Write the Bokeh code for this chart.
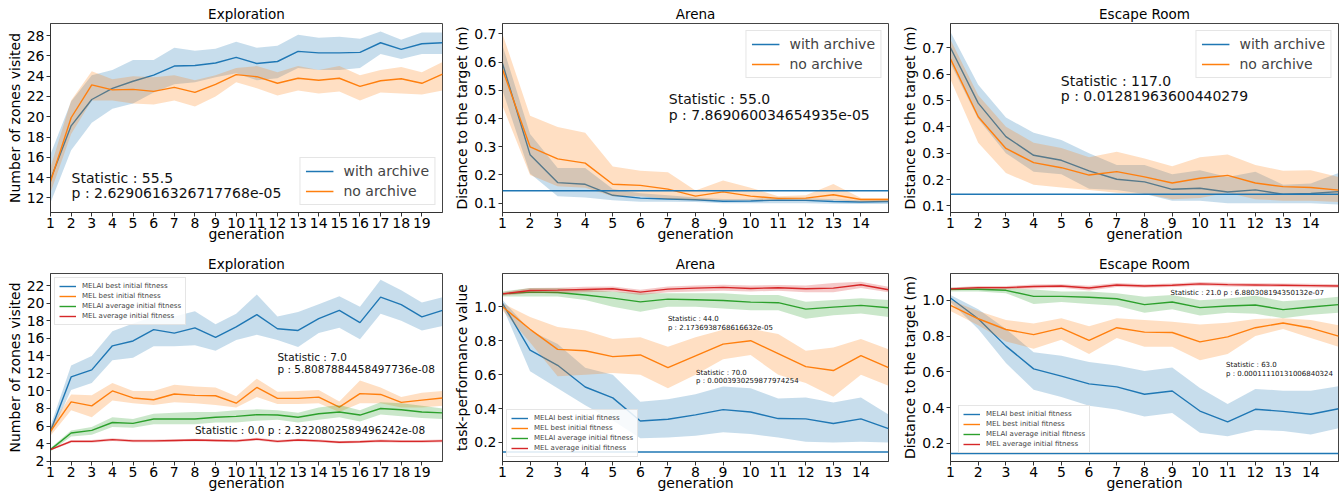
from bokeh.plotting import figure
from bokeh.models import Range1d, FixedTicker, PrintfTickFormatter, Label, Span, Legend
from bokeh.layouts import column, row
from bokeh.embed import file_html
from bokeh.resources import INLINE

# ---------------- data ----------------
gen20 = list(range(1, 21))
gen15 = list(range(1, 16))
target_distance = 0.144

# Top-left: Exploration (with / without archive)
expl_with_mean = [13.8, 19.1, 21.7, 22.8, 23.5, 24.1, 25.0, 25.05, 25.3, 25.85, 25.25, 25.45, 26.45, 26.3, 26.3, 26.35, 27.3, 26.65, 27.2, 27.3]
expl_with_low = [11.5, 16.7, 19.4, 20.8, 21.3, 22.4, 23.2, 23.4, 23.9, 24.3, 23.6, 23.8, 24.8, 24.6, 24.6, 24.8, 26.2, 25.7, 26.2, 26.2]
expl_with_high = [16.3, 21.5, 24.1, 24.6, 25.6, 25.6, 26.8, 26.5, 26.7, 27.4, 26.8, 27.0, 28.1, 27.8, 27.9, 27.7, 28.4, 27.6, 28.3, 28.3]
expl_no_mean = [13.6, 19.9, 23.15, 22.65, 22.7, 22.5, 22.9, 22.4, 23.2, 24.15, 23.95, 23.3, 23.8, 23.6, 23.8, 23.0, 23.55, 23.75, 23.3, 24.2]
expl_no_low = [12.5, 18.3, 21.6, 21.6, 21.3, 21.2, 21.6, 21.0, 22.0, 23.4, 22.8, 22.1, 22.6, 22.3, 22.5, 21.6, 22.4, 22.3, 22.2, 22.6]
expl_no_high = [15.0, 21.6, 24.5, 23.7, 24.0, 23.9, 24.1, 23.6, 24.1, 24.8, 25.0, 24.4, 25.0, 24.6, 25.0, 24.1, 24.6, 24.9, 24.4, 25.4]

# Top-middle: Arena
arena_with_mean = [0.595, 0.272, 0.173, 0.167, 0.128, 0.118, 0.115, 0.112, 0.107, 0.108, 0.111, 0.110, 0.106, 0.104, 0.106]
arena_with_low = [0.50, 0.205, 0.125, 0.12, 0.11, 0.105, 0.105, 0.104, 0.10, 0.10, 0.10, 0.10, 0.098, 0.097, 0.097]
arena_with_high = [0.66, 0.345, 0.225, 0.225, 0.15, 0.135, 0.128, 0.12, 0.115, 0.115, 0.12, 0.118, 0.114, 0.11, 0.112]
arena_no_mean = [0.575, 0.30, 0.257, 0.242, 0.167, 0.163, 0.15, 0.125, 0.14, 0.125, 0.117, 0.118, 0.13, 0.113, 0.113]
arena_no_low = [0.445, 0.20, 0.16, 0.155, 0.125, 0.125, 0.115, 0.11, 0.11, 0.11, 0.11, 0.11, 0.11, 0.105, 0.105]
arena_no_high = [0.70, 0.41, 0.37, 0.35, 0.23, 0.215, 0.21, 0.145, 0.18, 0.155, 0.125, 0.128, 0.168, 0.118, 0.118]

# Top-right: Escape Room
escape_with_mean = [0.70, 0.49, 0.363, 0.292, 0.273, 0.233, 0.201, 0.191, 0.163, 0.167, 0.153, 0.161, 0.144, 0.147, 0.154]
escape_with_low = [0.64, 0.43, 0.30, 0.23, 0.22, 0.165, 0.16, 0.145, 0.12, 0.12, 0.11, 0.11, 0.11, 0.11, 0.105]
escape_with_high = [0.76, 0.56, 0.435, 0.378, 0.35, 0.30, 0.255, 0.255, 0.22, 0.235, 0.21, 0.23, 0.18, 0.185, 0.225]
escape_no_mean = [0.658, 0.438, 0.318, 0.264, 0.245, 0.217, 0.230, 0.21, 0.187, 0.205, 0.216, 0.187, 0.173, 0.17, 0.16]
escape_no_low = [0.58, 0.34, 0.225, 0.18, 0.17, 0.16, 0.15, 0.145, 0.125, 0.13, 0.15, 0.125, 0.12, 0.12, 0.115]
escape_no_high = [0.73, 0.52, 0.40, 0.34, 0.32, 0.285, 0.305, 0.28, 0.25, 0.285, 0.295, 0.255, 0.233, 0.235, 0.21]

# Bottom-left: Exploration (initial fitness)
ie_melai_best = [5.4, 11.6, 12.4, 15.15, 15.7, 17.0, 16.6, 17.2, 16.1, 17.3, 18.7, 17.1, 16.9, 18.25, 19.2, 17.8, 20.7, 19.85, 18.45, 19.2]
ie_melai_best_low = [5.0, 10.1, 10.9, 13.5, 13.8, 15.1, 15.1, 15.2, 14.6, 15.8, 16.4, 15.8, 15.0, 16.6, 17.2, 15.9, 18.8, 18.0, 16.9, 17.4]
ie_melai_best_high = [6.0, 12.9, 14.0, 16.8, 17.7, 18.5, 18.5, 19.1, 17.6, 18.8, 21.0, 18.5, 19.0, 19.9, 20.8, 19.6, 22.7, 21.5, 20.1, 20.7]
ie_mel_best = [5.4, 8.75, 8.3, 10.0, 9.2, 9.0, 9.65, 9.5, 9.45, 8.6, 10.4, 9.15, 9.15, 9.3, 8.15, 9.7, 9.6, 8.7, 8.95, 9.2]
ie_mel_best_low = [4.9, 7.8, 7.0, 8.9, 8.6, 8.4, 8.7, 8.6, 8.4, 8.1, 9.3, 8.5, 8.5, 8.6, 7.6, 8.6, 8.6, 8.1, 8.1, 8.3]
ie_mel_best_high = [5.9, 9.6, 9.5, 10.9, 10.0, 10.0, 10.7, 10.5, 10.4, 9.4, 11.4, 9.9, 10.0, 10.1, 8.8, 11.2, 10.4, 9.3, 9.8, 10.0]
ie_melai_avg = [3.3, 5.2, 5.5, 6.4, 6.3, 6.8, 6.8, 6.8, 7.0, 7.1, 7.3, 7.25, 7.0, 7.4, 7.6, 7.25, 8.0, 7.85, 7.6, 7.5]
ie_melai_avg_low = [3.1, 4.8, 5.0, 5.9, 5.8, 6.2, 6.2, 6.2, 6.4, 6.4, 6.6, 6.7, 6.4, 6.7, 7.0, 6.5, 7.3, 7.1, 6.9, 6.8]
ie_melai_avg_high = [3.5, 5.5, 5.9, 7.0, 6.8, 7.4, 7.5, 7.6, 7.6, 7.8, 7.9, 7.8, 7.5, 8.1, 8.4, 7.8, 8.7, 8.6, 8.3, 8.0]
ie_mel_avg = [3.3, 4.25, 4.25, 4.45, 4.3, 4.3, 4.35, 4.4, 4.35, 4.3, 4.5, 4.25, 4.4, 4.3, 4.15, 4.2, 4.3, 4.25, 4.25, 4.3]
ie_mel_avg_low = [3.2, 4.1, 4.1, 4.3, 4.15, 4.15, 4.2, 4.25, 4.2, 4.15, 4.35, 4.1, 4.25, 4.15, 4.0, 4.05, 4.15, 4.1, 4.1, 4.15]
ie_mel_avg_high = [3.4, 4.4, 4.4, 4.6, 4.45, 4.45, 4.5, 4.55, 4.5, 4.45, 4.65, 4.4, 4.55, 4.45, 4.3, 4.35, 4.45, 4.4, 4.4, 4.45]

# Bottom-middle: Arena (initial fitness)
ia_melai_best = [1.02, 0.745, 0.655, 0.527, 0.463, 0.327, 0.337, 0.363, 0.394, 0.380, 0.341, 0.339, 0.312, 0.339, 0.282]
ia_melai_best_low = [1.0, 0.62, 0.52, 0.42, 0.33, 0.225, 0.23, 0.24, 0.26, 0.25, 0.23, 0.205, 0.20, 0.205, 0.20]
ia_melai_best_high = [1.04, 0.86, 0.78, 0.64, 0.60, 0.44, 0.455, 0.485, 0.53, 0.52, 0.46, 0.465, 0.435, 0.465, 0.365]
ia_mel_best = [1.0, 0.867, 0.749, 0.741, 0.706, 0.716, 0.641, 0.71, 0.78, 0.80, 0.724, 0.647, 0.624, 0.712, 0.641]
ia_mel_best_low = [0.98, 0.79, 0.59, 0.60, 0.61, 0.60, 0.52, 0.60, 0.69, 0.715, 0.60, 0.55, 0.47, 0.60, 0.535]
ia_mel_best_high = [1.02, 0.94, 0.88, 0.86, 0.81, 0.82, 0.765, 0.82, 0.865, 0.87, 0.84, 0.74, 0.76, 0.81, 0.75]
ia_melai_avg = [1.076, 1.086, 1.084, 1.069, 1.051, 1.029, 1.045, 1.041, 1.037, 1.027, 1.024, 0.986, 0.998, 1.008, 0.994]
ia_melai_avg_low = [1.06, 1.06, 1.06, 1.04, 1.00, 0.97, 1.00, 1.00, 0.99, 0.98, 0.98, 0.93, 0.95, 0.96, 0.94]
ia_melai_avg_high = [1.09, 1.11, 1.11, 1.10, 1.09, 1.08, 1.08, 1.08, 1.08, 1.07, 1.07, 1.03, 1.04, 1.05, 1.04]
ia_mel_avg = [1.076, 1.096, 1.098, 1.102, 1.106, 1.086, 1.104, 1.11, 1.114, 1.108, 1.112, 1.106, 1.11, 1.13, 1.10]
ia_mel_avg_low = [1.065, 1.08, 1.08, 1.085, 1.09, 1.07, 1.085, 1.09, 1.095, 1.09, 1.095, 1.085, 1.085, 1.11, 1.085]
ia_mel_avg_high = [1.085, 1.11, 1.112, 1.118, 1.12, 1.10, 1.12, 1.125, 1.13, 1.125, 1.128, 1.125, 1.14, 1.148, 1.118]

# Bottom-right: Escape Room (initial fitness)
ir_melai_best = [1.013, 0.897, 0.744, 0.617, 0.576, 0.533, 0.516, 0.475, 0.493, 0.381, 0.32, 0.391, 0.379, 0.363, 0.394]
ir_melai_best_low = [0.99, 0.84, 0.65, 0.50, 0.46, 0.41, 0.39, 0.35, 0.37, 0.26, 0.24, 0.275, 0.27, 0.25, 0.285]
ir_melai_best_high = [1.03, 0.95, 0.84, 0.71, 0.69, 0.655, 0.635, 0.605, 0.625, 0.51, 0.42, 0.505, 0.495, 0.495, 0.52]
ir_mel_best = [0.972, 0.897, 0.837, 0.808, 0.845, 0.776, 0.847, 0.822, 0.82, 0.768, 0.796, 0.847, 0.873, 0.845, 0.80]
ir_mel_best_low = [0.94, 0.86, 0.77, 0.73, 0.78, 0.70, 0.79, 0.74, 0.74, 0.665, 0.70, 0.80, 0.84, 0.79, 0.74]
ir_mel_best_high = [1.0, 0.94, 0.89, 0.87, 0.90, 0.855, 0.90, 0.89, 0.88, 0.865, 0.875, 0.895, 0.90, 0.89, 0.86]
ir_melai_avg = [1.062, 1.062, 1.056, 1.022, 1.022, 1.017, 1.009, 0.976, 0.991, 0.959, 0.968, 0.974, 0.948, 0.963, 0.976]
ir_melai_avg_low = [1.05, 1.05, 1.04, 0.98, 0.99, 0.98, 0.97, 0.93, 0.95, 0.915, 0.93, 0.925, 0.90, 0.92, 0.93]
ir_melai_avg_high = [1.07, 1.075, 1.07, 1.06, 1.05, 1.05, 1.04, 1.02, 1.03, 1.0, 1.01, 1.025, 0.995, 1.005, 1.02]
ir_mel_avg = [1.064, 1.071, 1.071, 1.077, 1.08, 1.069, 1.086, 1.08, 1.084, 1.092, 1.088, 1.086, 1.084, 1.082, 1.08]
ir_mel_avg_low = [1.055, 1.062, 1.062, 1.066, 1.07, 1.055, 1.075, 1.07, 1.074, 1.082, 1.078, 1.076, 1.074, 1.072, 1.07]
ir_mel_avg_high = [1.072, 1.08, 1.08, 1.088, 1.09, 1.082, 1.097, 1.09, 1.094, 1.102, 1.098, 1.096, 1.094, 1.092, 1.09]

archive_labels = ["with archive", "no archive"]
init_labels = ["MELAI best initial fitness", "MEL best initial fitness",
               "MELAI average initial fitness", "MEL average initial fitness"]

# ---------------- styling ----------------
FONT = "DejaVu Sans"
C = ["#1f77b4", "#ff7f0e", "#2ca02c", "#d62728"]


def make_fig(title, width, height, x_end, y_rng, ylabel, xticks, yticks,
             bl, br, bt, bb, yfmt=None):
    p = figure(width=width, height=height, x_range=Range1d(1, x_end),
               y_range=Range1d(*y_rng), output_backend="svg", toolbar_location=None,
               min_border_left=bl, min_border_right=br, min_border_top=bt,
               min_border_bottom=bb, title=title)
    p.title.align = "center"
    p.title.text_font = FONT
    p.title.text_font_size = "13.5px"
    p.title.text_font_style = "normal"
    p.title.text_color = "#000000"
    p.title.standoff = 3
    p.title.offset = 0
    p.xgrid.visible = False
    p.ygrid.visible = False
    p.outline_line_color = "#444444"
    p.outline_line_width = 1
    p.background_fill_color = "white"
    p.border_fill_color = "white"
    for ax in (p.xaxis[0], p.yaxis[0]):
        ax.major_label_text_font = FONT
        ax.major_label_text_font_size = "14px"
        ax.major_label_text_color = "#000000"
        ax.axis_label_text_font = FONT
        ax.axis_label_text_font_size = "14px"
        ax.axis_label_text_font_style = "normal"
        ax.axis_label_text_color = "#000000"
        ax.major_tick_in = 0
        ax.major_tick_out = 4
        ax.minor_tick_line_color = None
        ax.major_label_standoff = 2
        ax.axis_label_standoff = 1
        ax.axis_line_color = "#333333"
        ax.major_tick_line_color = "#333333"
    p.xaxis.major_label_standoff = 1
    p.xaxis.axis_label_standoff = -5
    p.xaxis.axis_label = "generation"
    p.yaxis.axis_label = ylabel
    p.xaxis.ticker = FixedTicker(ticks=xticks)
    p.yaxis.ticker = FixedTicker(ticks=yticks)
    if yfmt:
        p.yaxis.formatter = PrintfTickFormatter(format=yfmt)
    return p


def band(p, x, mean, low, high, color):
    p.varea(x=x, y1=low, y2=high, fill_color=color, fill_alpha=0.25)
    return p.line(x=x, y=mean, line_color=color, line_width=1.4)


def add_legend(p, items, loc, big, margin):
    leg = Legend(items=items, location=loc)
    leg.label_text_font = FONT
    leg.border_line_color = "#cccccc"
    leg.background_fill_alpha = 0.85
    leg.margin = margin
    if big:
        leg.label_text_font_size = "14px"
        leg.glyph_width = 28
        leg.glyph_height = 16
        leg.label_height = 16
        leg.spacing = 4
        leg.padding = 5
        leg.label_standoff = 10
    else:
        leg.label_text_font_size = "7px"
        leg.glyph_width = 17
        leg.glyph_height = 8
        leg.label_height = 8
        leg.spacing = 2
        leg.padding = 4
        leg.label_standoff = 6
    p.add_layout(leg)
    return leg


def note(p, x, y, text, size):
    p.add_layout(Label(x=x, y=y, text=text, text_font=FONT, text_font_size=size,
                       text_color="#111111", text_baseline="alphabetic"))


def hline(p):
    p.add_layout(Span(location=target_distance, dimension="width",
                      line_color=C[0], line_width=1.5))


W1, W2, W3 = 450, 445, 446
H1, H2 = 250, 248

# ---- top-left
p1 = make_fig("Exploration", W1, H1, 20, (10.55, 29.2), "Number of zones visited",
              list(range(1, 20)), list(range(12, 29, 2)), 50, 8, 23, 38)
r1 = band(p1, gen20, expl_with_mean, expl_with_low, expl_with_high, C[0])
r2 = band(p1, gen20, expl_no_mean, expl_no_low, expl_no_high, C[1])
add_legend(p1, [(archive_labels[0], [r1]), (archive_labels[1], [r2])], "bottom_right", True, 7)
note(p1, 2.02, 13.95, "Statistic : 55.5", "14px")
note(p1, 2.02, 12.45, "p : 2.6290616326717768e-05", "14px")

# ---- top-middle
p2 = make_fig("Arena", W2, H1, 15, (0.067, 0.737), "Distance to the target (m)",
              list(range(1, 15)), [0.1, 0.2, 0.3, 0.4, 0.5, 0.6, 0.7], 52, 7, 23, 38, "%.1f")
r1 = band(p2, gen15, arena_with_mean, arena_with_low, arena_with_high, C[0])
r2 = band(p2, gen15, arena_no_mean, arena_no_low, arena_no_high, C[1])
hline(p2)
add_legend(p2, [(archive_labels[0], [r1]), (archive_labels[1], [r2])], "top_right", True, 7)
note(p2, 7.03, 0.468, "Statistic : 55.0", "14px")
note(p2, 7.03, 0.414, "p : 7.869060034654935e-05", "14px")

# ---- top-right
p3 = make_fig("Escape Room", W3, H1, 15, (0.075, 0.792), "Distance to the target (m)",
              list(range(1, 15)), [0.1, 0.2, 0.3, 0.4, 0.5, 0.6, 0.7], 55, 3, 23, 38, "%.1f")
r1 = band(p3, gen15, escape_with_mean, escape_with_low, escape_with_high, C[0])
r2 = band(p3, gen15, escape_no_mean, escape_no_low, escape_no_high, C[1])
hline(p3)
add_legend(p3, [(archive_labels[0], [r1]), (archive_labels[1], [r2])], "top_right", True, 7)
note(p3, 4.98, 0.573, "Statistic : 117.0", "14px")
note(p3, 4.98, 0.517, "p : 0.01281963600440279", "14px")

# ---- bottom-left
p4 = make_fig("Exploration", W1, H2, 20, (1.95, 23.4), "Number of zones visited",
              list(range(1, 20)), list(range(2, 23, 2)), 50, 8, 23, 37)
rs = [band(p4, gen20, ie_melai_best, ie_melai_best_low, ie_melai_best_high, C[0]),
      band(p4, gen20, ie_mel_best, ie_mel_best_low, ie_mel_best_high, C[1]),
      band(p4, gen20, ie_melai_avg, ie_melai_avg_low, ie_melai_avg_high, C[2]),
      band(p4, gen20, ie_mel_avg, ie_mel_avg_low, ie_mel_avg_high, C[3])]
add_legend(p4, [(l, [r]) for l, r in zip(init_labels, rs)], "top_left", False, 4)
note(p4, 12.0, 13.89, "Statistic : 7.0", "10.5px")
note(p4, 12.0, 12.47, "p : 5.8087884458497736e-08", "10.5px")
note(p4, 8.0, 5.53, "Statistic : 0.0 p : 2.3220802589496242e-08", "10.5px")

# ---- bottom-middle
p5 = make_fig("Arena", W2, H2, 15, (0.088, 1.196), "task-performance value",
              list(range(1, 15)), [0.2, 0.4, 0.6, 0.8, 1.0], 52, 7, 23, 37, "%.1f")
rs = [band(p5, gen15, ia_melai_best, ia_melai_best_low, ia_melai_best_high, C[0]),
      band(p5, gen15, ia_mel_best, ia_mel_best_low, ia_mel_best_high, C[1]),
      band(p5, gen15, ia_melai_avg, ia_melai_avg_low, ia_melai_avg_high, C[2]),
      band(p5, gen15, ia_mel_avg, ia_mel_avg_low, ia_mel_avg_high, C[3])]
hline(p5)
add_legend(p5, [(l, [r]) for l, r in zip(init_labels, rs)], "bottom_left", False, 4)
note(p5, 7.0, 0.928, "Statistic : 44.0", "7px")
note(p5, 7.0, 0.877, "p : 2.1736938768616632e-05", "7px")
note(p5, 8.02, 0.612, "Statistic : 70.0", "7px")
note(p5, 8.02, 0.561, "p : 0.0003930259877974254", "7px")

# ---- bottom-right
p6 = make_fig("Escape Room", W3, H2, 15, (0.099, 1.15), "Distance to the target (m)",
              list(range(1, 15)), [0.2, 0.4, 0.6, 0.8, 1.0], 55, 3, 23, 37, "%.1f")
rs = [band(p6, gen15, ir_melai_best, ir_melai_best_low, ir_melai_best_high, C[0]),
      band(p6, gen15, ir_mel_best, ir_mel_best_low, ir_mel_best_high, C[1]),
      band(p6, gen15, ir_melai_avg, ir_melai_avg_low, ir_melai_avg_high, C[2]),
      band(p6, gen15, ir_mel_avg, ir_mel_avg_low, ir_mel_avg_high, C[3])]
hline(p6)
add_legend(p6, [(l, [r]) for l, r in zip(init_labels, rs)], "bottom_left", False, 8)
note(p6, 8.94, 1.041, "Statistic : 21.0 p : 6.880308194350132e-07", "7px")
note(p6, 10.94, 0.637, "Statistic : 63.0", "7px")
note(p6, 10.94, 0.590, "p : 0.00011110131006840324", "7px")

layout = column(row(p1, p2, p3), row(p4, p5, p6))
open("out.html", "w").write(file_html(layout, INLINE))
